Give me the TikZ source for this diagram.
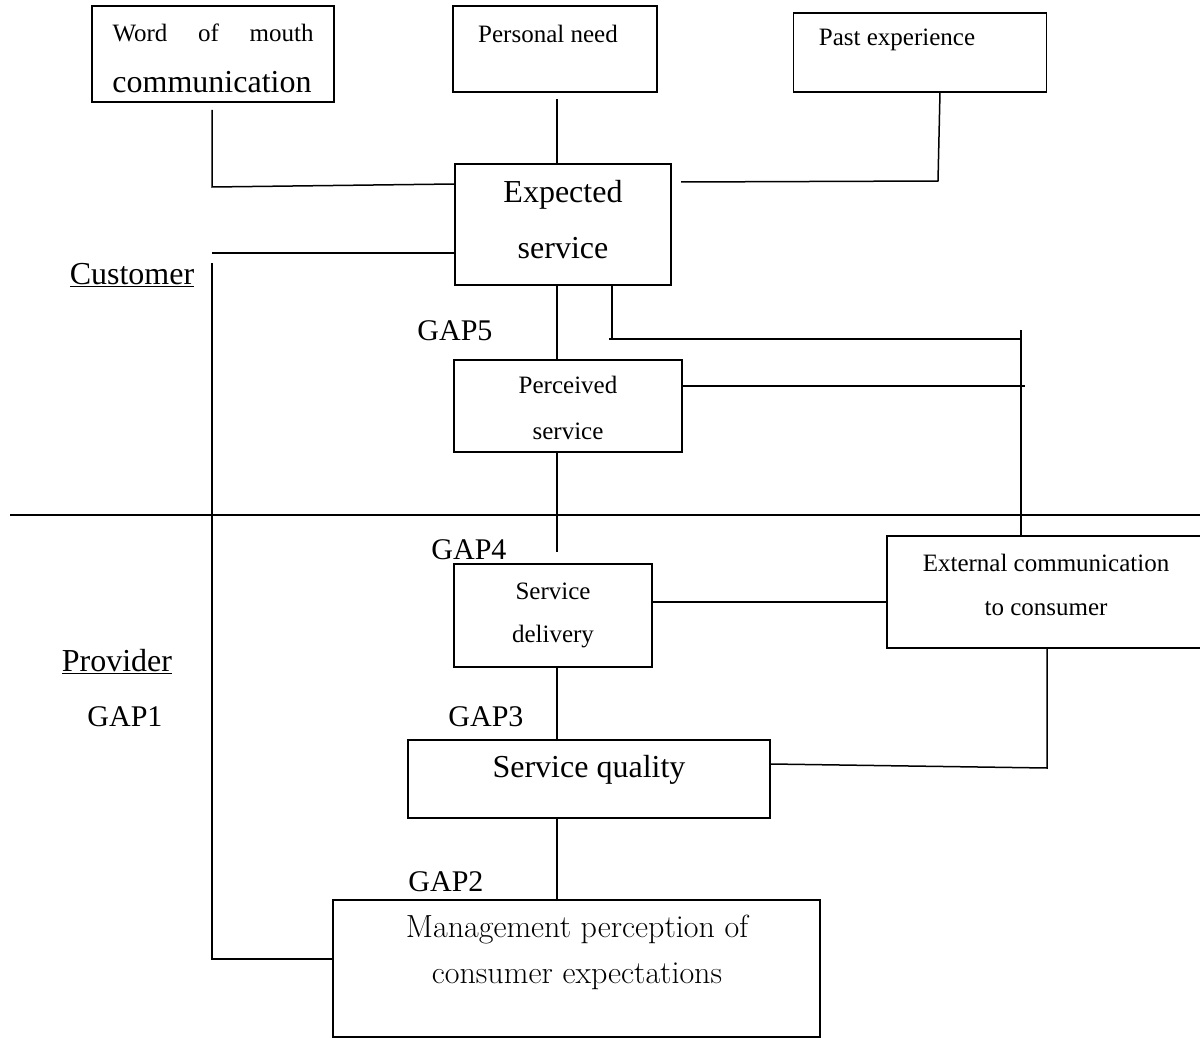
\documentclass[tikz,border=0pt]{standalone}
\usepackage{fontspec}
\setmainfont{Liberation Serif}
\newfontfamily\mgmtfont{Latin Modern Roman}
\usetikzlibrary{calc}
\tikzset{
  box/.style={draw, line width=1.5pt, inner sep=0pt, rectangle},
  conn/.style={line width=1.5pt},
  big/.style={inner sep=0pt, font=\fontsize{32}{38}\selectfont},
  small/.style={inner sep=0pt, font=\fontsize{25}{30}\selectfont},
  gap/.style={inner sep=0pt, font=\fontsize{30}{36}\selectfont},
  mgmt/.style={inner sep=0pt, font=\mgmtfont\fontsize{32}{38}\selectfont},
}
\begin{document}
\begin{tikzpicture}[x=1pt,y=-1pt]
\useasboundingbox (0,0) rectangle (1200,1038);
% boxes
\node[box, minimum width=242pt, minimum height=96pt] (wom) at (213,54) {};
\node[box, minimum width=204pt, minimum height=86pt] (pn) at (555,49) {};
\node[box, minimum width=253pt, minimum height=79pt] (pe) at (920,52.5) {};
\node[box, minimum width=216pt, minimum height=121pt] (es) at (563,224.5) {};
\node[box, minimum width=228pt, minimum height=92pt] (ps) at (568,406) {};
\node[box, minimum width=198pt, minimum height=103pt] (sd) at (553,615.5) {};
\node[box, minimum width=314pt, minimum height=112pt] (ec) at (1044,592) {};
\node[box, minimum width=362pt, minimum height=78pt] (sq) at (589,779) {};
\node[box, minimum width=487pt, minimum height=137pt] (mp) at (576.5,968.5) {};
% texts
\node[small, text width=201pt, align=justify] (t1) at (213,33) {Word\hfill of\hfill mouth};
\node[big] (t2) at (212,82) {communication};
\node[small] (t3) at (548,34) {Personal need};
\node[small] (t4) at (897,40) {Past experience};
\node[big] (t5) at (563,195) {Expected};
\node[big] (t6) at (563,248) {service};
\node[small] (t7) at (568,385) {Perceived};
\node[small] (t8) at (568,431) {service};
\node[small] (t9) at (553,591) {Service};
\node[small] (t10) at (553,637) {delivery};
\node[small] (t11) at (1046,563) {External communication};
\node[small] (t12) at (1046,609) {to consumer};
\node[big] (t13) at (589,770) {Service quality};
\node[mgmt] (t14) at (577,930) {Management perception of};
\node[mgmt] (t15) at (577,976) {consumer expectations};
\node[gap] (g5) at (455,331) {GAP5};
\node[gap] (g4) at (469,550) {GAP4};
\node[gap] (g3) at (486,717) {GAP3};
\node[gap] (g2) at (446,882) {GAP2};
\node[gap] (g1) at (125,717) {GAP1};
\node[big] (cust) at (132,275) {\underline{Customer}};
\node[big] (prov) at (117,662) {\underline{Provider}};
% divider
\coordinate (dl) at (10,515);
\coordinate (dr) at (1200,515);
\draw[conn] (dl) -- (dr);
% connectors
\coordinate (a1) at (212,110);
\coordinate (a2) at (212,187);
\draw[conn] (a1) -- (a2) -- (es.west |- 0,184);
\coordinate (b1) at (557,99);
\draw[conn] (b1) -- (es.north -| b1);
\coordinate (c1) at (940,92);
\coordinate (c2) at (938,181);
\coordinate (c3) at (681,182);
\draw[conn] (c1) -- (c2) -- (c3);
\coordinate (d1) at (212,253);
\draw[conn] (es.west |- d1) -- (d1);
\coordinate (e1) at (212,263);
\coordinate (e2) at (212,959);
\draw[conn] (e1) -- (e2) -- (mp.west |- e2);
\draw[conn] (es.south -| 557,0) -- (ps.north -| 557,0);
\coordinate (f1) at (612,339);
\coordinate (f2) at (1021,339);
\draw[conn] (es.south -| f1) -- (f1);
\draw[conn] (609,339) -- (f2);
\coordinate (h1) at (1021,330);
\draw[conn] (h1) -- (ec.north -| h1);
\coordinate (i1) at (1025,386);
\draw[conn] (ps.east |- i1) -- (i1);
\coordinate (j1) at (557,552);
\draw[conn] (ps.south -| j1) -- (j1);
\draw[conn] (sd.east |- 0,602) -- (ec.west |- 0,602);
\draw[conn] (sd.south -| 557,0) -- (sq.north -| 557,0);
\coordinate (k1) at (1047,768);
\draw[conn] (ec.south -| k1) -- (k1) -- (sq.east |- 0,764);
\draw[conn] (sq.south -| 557,0) -- (mp.north -| 557,0);
\end{tikzpicture}
\end{document}
